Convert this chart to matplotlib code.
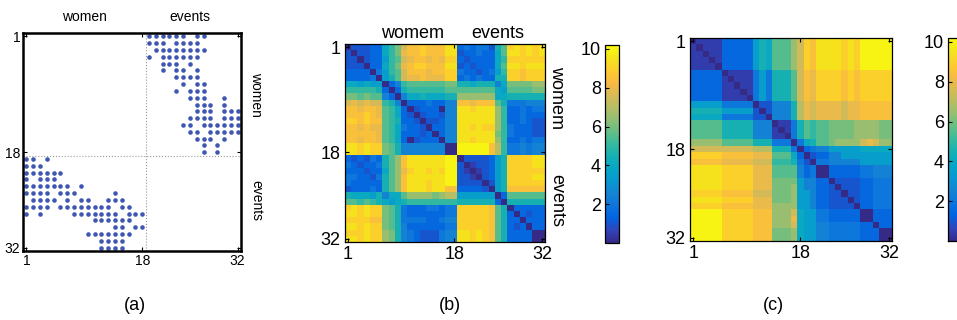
import numpy as np
import matplotlib.pyplot as plt
from matplotlib.colors import LinearSegmentedColormap

plt.rcParams['font.family'] = ['Liberation Sans', 'DejaVu Sans']

# events attended by each of the 18 women (panel a)
women_events = [
    [1, 2, 3, 4, 5, 6, 8, 9],
    [1, 2, 3, 5, 6, 7, 8],
    [2, 3, 4, 5, 6, 7, 8, 9],
    [1, 3, 4, 5, 6, 7, 8],
    [3, 4, 5, 7],
    [3, 5, 6, 8],
    [5, 6, 7, 8],
    [6, 8, 9],
    [5, 7, 8, 9],
    [7, 8, 9, 12],
    [8, 9, 10, 12],
    [8, 9, 10, 12, 13, 14],
    [7, 8, 9, 10, 12, 13, 14],
    [6, 7, 9, 10, 11, 12, 13, 14],
    [7, 8, 10, 11, 12, 13, 14],
    [8, 9, 10, 12],
    [9, 11],
    [9, 11],
]
n_women = 18
n_events = 14
ticks = [1, 18, 32]
cbar_ticks = [2, 4, 6, 8, 10]

# panel (b): distances, women 1-18 then events 1-14
dist_b = [
    "0 1 1 1 1.5 1.5 4 5 6 7.5 8.5 8.5 9 8.5 8.5 8.5 9.5 9.5 1.5 2 1.5 2 2 1 4.5 5.5 9 9.5 9 9.5 9 9.5",
    "1 0 1 1 1.5 1.5 4 5 6 8 8.5 8.5 9 8.5 8.5 8.5 9.5 9.5 1 1.5 1.5 2 1.5 1.5 4 5.5 9.5 9.5 9 9.5 9 9.5",
    "1 1 0 1 1.5 1.5 3.5 5 5.5 7.5 8 8.5 8.5 8 8.5 8 9 9 1.5 1 1.5 1.5 1.5 1.5 4 5 9 9 9 9 9 9",
    "1 1 1 0 1.5 1.5 4 5 6 8 8.5 9 9 8.5 8.5 8.5 9.5 9.5 1 1.5 1 1.5 1.5 1.5 4 5.5 9.5 9.5 9 9.5 9.5 9.5",
    "1.5 1.5 1.5 1.5 0 2 3.5 5 5.5 7.5 8.5 8.5 8.5 8 8.5 8.5 9 9 2 1.5 1.5 1 1.5 2 3.5 5 9 9 8.5 9 9 9",
    "1.5 1.5 1.5 1.5 2 0 3.5 4.5 5.5 7.5 8 8 8.5 8 8 8 9 9 1.5 2 1.5 2 1.5 1.5 4.5 4.5 9 9 8.5 9 9 9",
    "4 4 3.5 4 3.5 3.5 0 1.5 2.5 5 5.5 5.5 5.5 5.5 5.5 5.5 6 6 4.5 4.5 4 4.5 4.5 4.5 2.5 4 6 6 6 6 6.5 6.5",
    "5 5 5 5 5 4.5 1.5 0 1.5 4.5 5 5 5 5 5 5 5.5 5.5 5.5 5.5 5.5 5.5 5.5 5.5 4 3.5 5.5 5.5 5.5 5.5 6 6",
    "6 6 5.5 6 5.5 5.5 2.5 1.5 0 2.5 4 4 4.5 4 4 4 4.5 4.5 6.5 6.5 6.5 6.5 6.5 6.5 4 4 4.5 4.5 4.5 4.5 4.5 4.5",
    "7.5 8 7.5 8 7.5 7.5 5 4.5 2.5 0 1.5 1.5 1.5 2 1.5 1.5 2.5 2.5 8.5 8.5 8 8.5 8.5 8.5 5.5 4.5 2 2 2 2.5 2.5 2.5",
    "8.5 8.5 8 8.5 8.5 8 5.5 5 4 1.5 0 1 1.5 1.5 1.5 0 2.5 2.5 9.5 9.5 9 9.5 9.5 9.5 6.5 5 1.5 1.5 2 1.5 2 2",
    "8.5 8.5 8.5 9 8.5 8 5.5 5 4 1.5 1 0 1 1.5 1.5 1 2.5 2.5 9.5 9.5 9.5 9.5 9.5 9.5 6.5 5 1.5 1.5 2 1.5 1.5 1.5",
    "9 9 8.5 9 8.5 8.5 5.5 5 4.5 1.5 1.5 1 0 1 1 1.5 2.5 2.5 9.5 9.5 9.5 9.5 9.5 9.5 6.5 5 1.5 1.5 2 1.5 1 1",
    "8.5 8.5 8 8.5 8 8 5.5 5 4 2 1.5 1.5 1 0 1.5 1.5 2.5 2.5 9.5 9.5 9 9.5 9 9 6.5 5 2 1.5 1.5 1.5 1 1",
    "8.5 8.5 8.5 8.5 8.5 8 5.5 5 4 1.5 1.5 1.5 1 1.5 0 1.5 2.5 2.5 9.5 9.5 9.5 9.5 9.5 9.5 6 5 2 1.5 1.5 1.5 1 1",
    "8.5 8.5 8 8.5 8.5 8 5.5 5 4 1.5 0 1 1.5 1.5 1.5 0 2.5 2.5 9.5 9.5 9 9.5 9.5 9.5 6.5 5 1.5 1.5 2 1.5 2 2",
    "9.5 9.5 9 9.5 9 9 6 5.5 4.5 2.5 2.5 2.5 2.5 2.5 2.5 2.5 0 0 10 10 10 10 10 8.5 7 5 2 2 2.5 2 2.5 2.5",
    "9.5 9.5 9 9.5 9 9 6 5.5 4.5 2.5 2.5 2.5 2.5 2.5 2.5 2.5 0 0 10 10 10 10 10 8.5 7 5 2 2 2.5 2 2.5 2.5",
    "1.5 1 1.5 1 2 1.5 4.5 5.5 6.5 8.5 9.5 9.5 9.5 9.5 9.5 9.5 10 10 0 1 1 1 1 1.5 3.5 4.5 9 9 9 9 9.5 9.5",
    "2 1.5 1 1.5 1.5 2 4.5 5.5 6.5 8.5 9.5 9.5 9.5 9.5 9.5 9.5 10 10 1 0 0.5 1 1 1.5 3.5 4.5 9 9 9 9 9.5 9.5",
    "1.5 1.5 1.5 1 1.5 1.5 4 5.5 6.5 8 9 9.5 9.5 9 9.5 9 10 10 1 0.5 0 0.5 1 1.5 3.5 4.5 9 9 9 9 9 9",
    "2 2 1.5 1.5 1 2 4.5 5.5 6.5 8.5 9.5 9.5 9.5 9.5 9.5 9.5 10 10 1 1 0.5 0 1 1.5 3.5 4.5 9 9 9 9 9.5 9.5",
    "2 1.5 1.5 1.5 1.5 1.5 4.5 5.5 6.5 8.5 9.5 9.5 9.5 9 9.5 9.5 10 10 1 1 1 1 0 1 3.5 4.5 9 9 9 9 9 9",
    "1 1.5 1.5 1.5 2 1.5 4.5 5.5 6.5 8.5 9.5 9.5 9.5 9 9.5 9.5 8.5 8.5 1.5 1.5 1.5 1.5 1 0 3.5 4.5 8.5 8.5 8.5 8.5 8.5 8.5",
    "4.5 4 4 4 3.5 4.5 2.5 4 4 5.5 6.5 6.5 6.5 6.5 6 6.5 7 7 3.5 3.5 3.5 3.5 3.5 3.5 0 1.5 5.5 5.5 5.5 5.5 5.5 5.5",
    "5.5 5.5 5 5.5 5 4.5 4 3.5 4 4.5 5 5 5 5 5 5 5 5 4.5 4.5 4.5 4.5 4.5 4.5 1.5 0 4.5 4.5 4.5 4.5 4.5 4.5",
    "9 9.5 9 9.5 9 9 6 5.5 4.5 2 1.5 1.5 1.5 2 2 1.5 2 2 9 9 9 9 9 8.5 5.5 4.5 0 1.5 1.5 1.5 1.5 1.5",
    "9.5 9.5 9 9.5 9 9 6 5.5 4.5 2 1.5 1.5 1.5 1.5 1.5 1.5 2 2 9 9 9 9 9 8.5 5.5 4.5 1.5 0 1.5 1 1.5 1.5",
    "9 9 9 9 8.5 8.5 6 5.5 4.5 2 2 2 2 1.5 1.5 2 2.5 2.5 9 9 9 9 9 8.5 5.5 4.5 1.5 1.5 0 1.5 1.5 1.5",
    "9.5 9.5 9 9.5 9 9 6 5.5 4.5 2.5 1.5 1.5 1.5 1.5 1.5 1.5 2 2 9 9 9 9 9 8.5 5.5 4.5 1.5 1 1.5 0 1.5 1.5",
    "9 9 9 9.5 9 9 6.5 6 4.5 2.5 2 1.5 1 1 1 2 2.5 2.5 9.5 9.5 9 9.5 9 8.5 5.5 4.5 1.5 1.5 1.5 1.5 0 0",
    "9.5 9.5 9 9.5 9 9 6.5 6 4.5 2.5 2 1.5 1 1 1 2 2.5 2.5 9.5 9.5 9 9.5 9 8.5 5.5 4.5 1.5 1.5 1.5 1.5 0 0",
]

# panel (c): reordered distances
dist_c = [
    "0 0.5 0.5 0.5 0.5 1.5 1.5 1.5 1.5 1.5 3.5 4.5 4 5.5 5.5 5.5 6.5 7.5 9 8.5 9.5 9.5 9.5 9.5 9 9.5 9 10 10 10 10 10",
    "0.5 0 0.5 0.5 0.5 1.5 1.5 1.5 1.5 1.5 3.5 4.5 4 5.5 5.5 5.5 6.5 7.5 9 8.5 9.5 9.5 9.5 9.5 9 9.5 9 10 10 10 10 10",
    "0.5 0.5 0 0.5 0.5 1.5 1.5 1.5 1.5 1.5 3.5 4.5 4 5.5 5.5 5.5 6.5 7.5 9 8.5 9.5 9.5 9.5 9.5 9 9.5 9 10 10 10 10 10",
    "0.5 0.5 0.5 0 0.5 1.5 1.5 1.5 1.5 1.5 3.5 4.5 4 5.5 5.5 5.5 6.5 7.5 9 8.5 9.5 9.5 9.5 9.5 9 9.5 9 10 10 10 10 10",
    "0.5 0.5 0.5 0.5 0 1.5 1.5 1.5 1.5 1.5 3.5 4.5 4 5.5 5.5 5.5 6.5 7.5 9 8.5 9.5 9.5 9.5 9.5 9 9.5 9 10 10 10 10 10",
    "1.5 1.5 1.5 1.5 1.5 0 0.5 0.5 0.5 0.5 2 3.5 2 4.5 4.5 4.5 5.5 7.5 8.5 8 9 9 9 9 8.5 9 8.5 9 9 9 9 9",
    "1.5 1.5 1.5 1.5 1.5 0.5 0 0.5 0.5 0.5 2 3.5 2 4.5 4.5 4.5 5.5 7.5 8.5 8 9 9 9 9 8.5 9 8.5 9 9 9 9 9",
    "1.5 1.5 1.5 1.5 1.5 0.5 0.5 0 0.5 0.5 2 3.5 2 4.5 4.5 4.5 5.5 7.5 8.5 8 9 9 9 9 8.5 9 8.5 9 9 9 9 9",
    "1.5 1.5 1.5 1.5 1.5 0.5 0.5 0.5 0 0.5 2 3.5 2 4.5 4.5 4.5 5.5 7.5 8.5 8 9 9 9 9 8.5 9 8.5 9 9 9 9 9",
    "1.5 1.5 1.5 1.5 1.5 0.5 0.5 0.5 0.5 0 2 3.5 2 4.5 4.5 4.5 5.5 7.5 8.5 8 9 9 9 9 8.5 9 8.5 9 9 9 9 9",
    "3.5 3.5 3.5 3.5 3.5 2 2 2 2 2 0 1 1 2.5 2.5 2.5 4.5 7 8 7.5 8 8 8 8 7.5 8 8 8.5 8.5 8.5 8.5 8.5",
    "4.5 4.5 4.5 4.5 4.5 3.5 3.5 3.5 3.5 3.5 1 0 1 2.5 2.5 2.5 4.5 7 8 7.5 8 8 8 8 7.5 8 8 8.5 8.5 8.5 8.5 8.5",
    "4 4 4 4 4 2 2 2 2 2 1 1 0 2.5 2.5 2.5 4.5 7 8 7.5 8 8 8 8 7.5 8 8 8.5 8.5 8.5 8.5 8.5",
    "5.5 5.5 5.5 5.5 5.5 4.5 4.5 4.5 4.5 4.5 2.5 2.5 2.5 0 0.5 0.5 2 4.5 5.5 5 5.5 5.5 6 6 6 6 6.5 6.5 6.5 6.5 6 6",
    "5.5 5.5 5.5 5.5 5.5 4.5 4.5 4.5 4.5 4.5 2.5 2.5 2.5 0.5 0 0.5 2 4.5 5.5 5 5.5 5.5 6 6 6 6 6.5 6.5 6.5 6.5 6 6",
    "5.5 5.5 5.5 5.5 5.5 4.5 4.5 4.5 4.5 4.5 2.5 2.5 2.5 0.5 0.5 0 2 4.5 5.5 5 5.5 5.5 6 6 6 6 6.5 6.5 6.5 6.5 6 6",
    "6.5 6.5 6.5 6.5 6.5 5.5 5.5 5.5 5.5 5.5 4.5 4.5 4.5 2 2 2 0 2 4 4.5 5.5 5.5 6 6.5 6.5 6.5 6.5 7.5 8 7.5 6.5 6.5",
    "7.5 7.5 7.5 7.5 7.5 7.5 7.5 7.5 7.5 7.5 7 7 7 4.5 4.5 4.5 2 0 1.5 2 2.5 2.5 3.5 3.5 3.5 3.5 3.5 4 4 4 4 4",
    "9 9 9 9 9 8.5 8.5 8.5 8.5 8.5 8 8 8 5.5 5.5 5.5 4 1.5 0 1 1.5 1.5 2.5 2.5 3.5 3.5 3.5 3.5 3.5 3.5 3.5 3.5",
    "8.5 8.5 8.5 8.5 8.5 8 8 8 8 8 7.5 7.5 7.5 5 5 5 4.5 2 1 0 2 2 2.5 2.5 2.5 2.5 2.5 3.5 3.5 3.5 3.5 3.5",
    "9.5 9.5 9.5 9.5 9.5 9 9 9 9 9 8 8 8 5.5 5.5 5.5 5.5 2.5 1.5 2 0 0 1.5 1.5 1.5 1.5 1.5 2 2 2.5 2.5 2.5",
    "9.5 9.5 9.5 9.5 9.5 9 9 9 9 9 8 8 8 5.5 5.5 5.5 5.5 2.5 1.5 2 0 0 1.5 1.5 1.5 1.5 1.5 2 2 2.5 2.5 2.5",
    "9.5 9.5 9.5 9.5 9.5 9 9 9 9 9 8 8 8 6 6 6 6 3.5 2.5 2.5 1.5 1.5 0 1 1 1 1 1.5 1.5 2 2 2",
    "9.5 9.5 9.5 9.5 9.5 9 9 9 9 9 8 8 8 6 6 6 6.5 3.5 2.5 2.5 1.5 1.5 1 0 1 1 1 1.5 1.5 2 2 2",
    "9 9 9 9 9 8.5 8.5 8.5 8.5 8.5 7.5 7.5 7.5 6 6 6 6.5 3.5 3.5 2.5 1.5 1.5 1 1 0 1 1 1.5 1.5 2 2 2",
    "9.5 9.5 9.5 9.5 9.5 9 9 9 9 9 8 8 8 6 6 6 6.5 3.5 3.5 2.5 1.5 1.5 1 1 1 0 1 1.5 1.5 2 2 2",
    "9 9 9 9 9 8.5 8.5 8.5 8.5 8.5 8 8 8 6.5 6.5 6.5 6.5 3.5 3.5 2.5 1.5 1.5 1 1 1 1 0 1.5 1.5 2 2 2",
    "10 10 10 10 10 9 9 9 9 9 8.5 8.5 8.5 6.5 6.5 6.5 7.5 4 3.5 3.5 2 2 1.5 1.5 1.5 1.5 1.5 0 0 1.5 1.5 1.5",
    "10 10 10 10 10 9 9 9 9 9 8.5 8.5 8.5 6.5 6.5 6.5 8 4 3.5 3.5 2 2 1.5 1.5 1.5 1.5 1.5 0 0 1.5 1.5 1.5",
    "10 10 10 10 10 9 9 9 9 9 8.5 8.5 8.5 6.5 6.5 6.5 7.5 4 3.5 3.5 2.5 2.5 2 2 2 2 2 1.5 1.5 0 1.5 1.5",
    "10 10 10 10 10 9 9 9 9 9 8.5 8.5 8.5 6 6 6 6.5 4 3.5 3.5 2.5 2.5 2 2 2 2 2 1.5 1.5 1.5 0 0",
    "10 10 10 10 10 9 9 9 9 9 8.5 8.5 8.5 6 6 6 6.5 4 3.5 3.5 2.5 2.5 2 2 2 2 2 1.5 1.5 1.5 0 0",
]

# parula-like colormap
parula = LinearSegmentedColormap.from_list('parula', [
    (0.2081, 0.1663, 0.5292), (0.1959, 0.2645, 0.7279), (0.0117, 0.3875, 0.8820),
    (0.0498, 0.4586, 0.8641), (0.0793, 0.5200, 0.8312), (0.0343, 0.5966, 0.8199),
    (0.0228, 0.6535, 0.7768), (0.0843, 0.6928, 0.7062), (0.2178, 0.7250, 0.6193),
    (0.3953, 0.7459, 0.5244), (0.5709, 0.7485, 0.4494), (0.7184, 0.7411, 0.3905),
    (0.8507, 0.7299, 0.3360), (0.9739, 0.7314, 0.2666), (0.9880, 0.8066, 0.1794),
    (0.9589, 0.8949, 0.1132), (0.9763, 0.9831, 0.0538)])

W, H = 957, 320
fig = plt.figure(figsize=(W / 100, H / 100), dpi=100)


def box(x0, y0, x1, y1):
    return [x0 / W, 1 - y1 / H, (x1 - x0) / W, (y1 - y0) / H]


n = n_women + n_events

# (a) spy plot of the bipartite adjacency
adj = np.zeros((n, n))
for w, evs in enumerate(women_events):
    for e in evs:
        adj[w, n_women + e - 1] = 1
        adj[n_women + e - 1, w] = 1
rows, cols = np.nonzero(adj)

ax = fig.add_axes(box(23, 33, 241, 251))
ax.plot(cols + 1, rows + 1, 'o', ms=3.3, color='#3f57b3', mec='none')
ax.axvline(n_women + 0.5, color='#999999', ls=':', lw=0.8)
ax.axhline(n_women + 0.5, color='#999999', ls=':', lw=0.8)
ax.set_xlim(0.5, n + 0.5)
ax.set_ylim(n + 0.5, 0.5)
ax.set_xticks(ticks)
ax.set_yticks(ticks)
ax.tick_params(direction='in', length=3, top=True, right=True, labelsize=10, pad=2)
for s in ax.spines.values():
    s.set_linewidth(1.8)
fig.text(84 / W, 1 - 17 / H, 'women', ha='center', va='center', fontsize=10)
fig.text(190 / W, 1 - 17 / H, 'events', ha='center', va='center', fontsize=10)
fig.text(256 / W, 1 - 94 / H, 'women', ha='center', va='center', fontsize=10, rotation=-90)
fig.text(256 / W, 1 - 200 / H, 'events', ha='center', va='center', fontsize=10, rotation=-90)

# (b) and (c) heatmaps with colour bars
panels = [
    (dist_b, box(345, 44, 545, 242), box(605, 45, 619, 243)),
    (dist_c, box(690, 38, 892, 241), box(948, 38, 962, 241)),
]
for data, pos, cpos in panels:
    M = np.array([[float(v) for v in r.split()] for r in data])
    ax = fig.add_axes(pos)
    im = ax.imshow(M, cmap=parula, vmin=0, vmax=10.2, aspect='auto',
                   interpolation='nearest', extent=[0.5, n + 0.5, n + 0.5, 0.5])
    ax.set_xticks(ticks)
    ax.set_yticks(ticks)
    ax.tick_params(direction='in', length=3, top=True, right=True, labelsize=13, pad=3)
    for s in ax.spines.values():
        s.set_linewidth(0.9)
    cax = fig.add_axes(cpos)
    cb = fig.colorbar(im, cax=cax, ticks=cbar_ticks)
    cax.yaxis.set_ticks_position('left')
    cax.yaxis.set_label_position('left')
    cax.tick_params(direction='in', length=3, labelsize=13, pad=3)
    cb.outline.set_linewidth(0.9)

fig.text(413 / W, 1 - 33 / H, 'womem', ha='center', va='center', fontsize=13)
fig.text(498 / W, 1 - 33 / H, 'events', ha='center', va='center', fontsize=13)
fig.text(557 / W, 1 - 97 / H, 'womem', ha='center', va='center', fontsize=13, rotation=-90)
fig.text(557 / W, 1 - 200 / H, 'events', ha='center', va='center', fontsize=13, rotation=-90)

# captions
for x, lab in [(135, '(a)'), (450, '(b)'), (773, '(c)')]:
    fig.text(x / W, 1 - 305 / H, lab, ha='center', va='center', fontsize=13)

fig.savefig('out.png', dpi=100)
